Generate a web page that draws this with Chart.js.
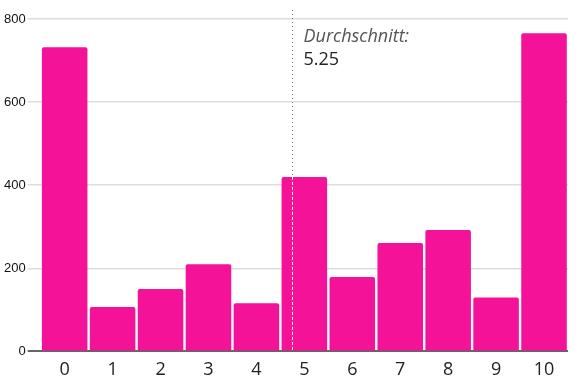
<!DOCTYPE html>
<html>
<head>
<meta charset="utf-8">
<script src="https://cdn.jsdelivr.net/npm/chart.js@4/dist/chart.umd.min.js"></script>
<style>
html,body{margin:0;padding:0;background:#fff;}
#wrap{width:582px;height:379px;position:relative;}
</style>
</head>
<body>
<div id="wrap"><canvas id="c" width="582" height="379"></canvas></div>
<script>
const categories = ['0','1','2','3','4','5','6','7','8','9','10'];
const counts = [732, 107, 150, 210, 116, 420, 179, 261, 292, 130, 766];
const yTickValues = [0, 200, 400, 600, 800];
const averageValue = 5.25;
const averageLabel = 'Durchschnitt:';

const avgPlugin = {
  id: 'avgLine',
  afterDatasetsDraw(chart) {
    const ctx = chart.ctx;
    const xs = chart.scales.x, ys = chart.scales.y;
    const n = categories.length;
    const cw = (xs.right - xs.left) / n;
    const x = Math.round(xs.left + averageValue * cw) + 0.5;
    const idx = Math.floor(averageValue);
    const barTop = ys.getPixelForValue(counts[idx]);
    const bottom = ys.getPixelForValue(0);
    ctx.save();
    ctx.lineWidth = 1;
    ctx.strokeStyle = '#777';
    ctx.setLineDash([1, 3]);
    ctx.beginPath();
    ctx.moveTo(x, 10);
    ctx.lineTo(x, barTop);
    ctx.stroke();
    ctx.strokeStyle = '#ffffff';
    ctx.setLineDash([3, 2]);
    ctx.beginPath();
    ctx.moveTo(x, barTop);
    ctx.lineTo(x, bottom - 1);
    ctx.stroke();
    ctx.setLineDash([]);
    ctx.textAlign = 'left';
    ctx.textBaseline = 'alphabetic';
    ctx.font = 'italic 18px "Open Sans"';
    ctx.fillStyle = '#555';
    ctx.fillText(averageLabel, x + 11, 42);
    ctx.font = '18px "Open Sans"';
    ctx.fillStyle = '#222';
    ctx.fillText(String(averageValue), x + 11, 65);
    ctx.restore();
  }
};

new Chart(document.getElementById('c'), {
  type: 'bar',
  data: {
    labels: categories,
    datasets: [{
      data: counts,
      backgroundColor: '#f41298',
      borderWidth: 0,
      borderRadius: {topLeft: 2, topRight: 2, bottomLeft: 0, bottomRight: 0},
      borderSkipped: 'bottom',
      categoryPercentage: 1,
      barPercentage: 0.95
    }]
  },
  options: {
    responsive: false,
    animation: false,
    layout: {padding: {top: 19, right: 14, left: 2, bottom: -2}},
    plugins: {legend: {display: false}, tooltip: {enabled: false}},
    scales: {
      x: {
        grid: {display: false},
        border: {display: false},
        ticks: {color: '#222', font: {family: '"Open Sans"', size: 18}, padding: 0}
      },
      y: {
        min: 0, max: 800,
        afterBuildTicks(axis) { axis.ticks = yTickValues.map(v => ({value: v})); },
        border: {display: false},
        grid: {
          color: ctx => ctx.tick && ctx.tick.value === 0 ? '#666' : '#dddddd',
          lineWidth: ctx => ctx.tick && ctx.tick.value === 0 ? 2 : 1.5,
          tickLength: 13,
          drawTicks: true
        },
        ticks: {color: '#111', font: {family: '"Liberation Sans"', size: 13}, padding: 2}
      }
    }
  },
  plugins: [avgPlugin]
});
</script>
</body>
</html>
